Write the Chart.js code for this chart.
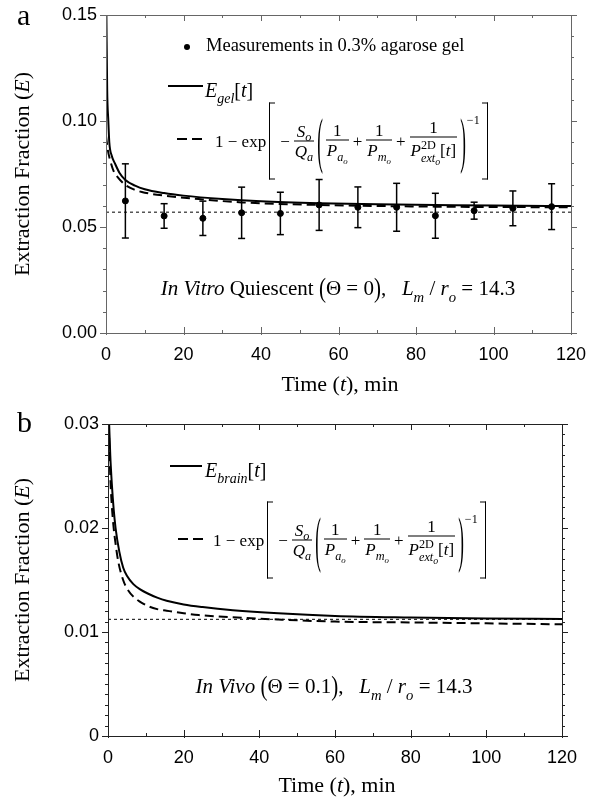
<!DOCTYPE html>
<html>
<head>
<meta charset="utf-8">
<script src="https://cdn.jsdelivr.net/npm/chart.js@4.4.1/dist/chart.umd.min.js"></script>
<style>
  body { margin: 0; background: #fff; }
  #wrap { position: relative; width: 600px; height: 797px; overflow: hidden;
          font-family: "Liberation Serif", "Times New Roman", serif; color: #000; }
  canvas { position: absolute; left: 0; }
  .txt { position: absolute; line-height: 1; white-space: nowrap; }
  .txt sub { font-size: 0.7em; line-height: 0; vertical-align: -0.45em; }
  .f { position: absolute; display: flex; align-items: center; font-size: 17px; line-height: 1;
       transform: translateY(-50%); white-space: nowrap; }
  .f sub { font-size: 0.72em; line-height: 0; vertical-align: -0.4em; }
  .frac { display: inline-flex; flex-direction: column; align-items: center; margin: 0 2px; }
  .frac > span { padding: 1px 1px; }
  .frac > span:first-child { border-bottom: 1px solid #000; align-self: stretch; text-align: center; }
  .brk { width: 6px; height: 77px; border: 1px solid #000; box-sizing: border-box; }
  .brk.l { border-right: none; margin: 0 3px 0 3px; }
  .brk.r { border-left: none; margin-left: 2px; }
  .par { display: inline-block; transform: scaleY(3.6); margin: 0 1px; }
  .op { margin: 0 2px; }
  .ss { display: inline-block; font-size: 0.72em; line-height: 1.05; vertical-align: -0.45em; }
  .ss > span { display: block; }
  .ss sub { font-size: 0.8em; }
  .exp { align-self: flex-start; font-size: 12px; margin-top: 11px; }
  .big { display: inline-block; transform: scaleY(1.25); }
  .sample { position: absolute; height: 2px; background: #000; }
  .dash { position: absolute; height: 2px;
          background: repeating-linear-gradient(90deg, #000 0 10px, transparent 10px 15px); }
</style>
</head>
<body>
<div id="wrap">
  <canvas id="chartA" width="600" height="400" style="top:0"></canvas>
  <canvas id="chartB" width="600" height="397" style="top:400px"></canvas>
</div>
<script>
// ---- panel a : in vitro gel ----
const tGel   = [0.1, 0.3, 0.6, 0.85, 1.5, 2.3, 3.5, 5, 7.5, 10, 15, 20, 30, 40, 55, 70, 85, 100, 120];
const eGel   = [0.150, 0.115, 0.100, 0.090, 0.0835, 0.0800, 0.0755, 0.0722, 0.0695, 0.0678, 0.0660,
                0.0648, 0.0632, 0.0621, 0.0612, 0.0607, 0.0604, 0.0601, 0.0599];
const tModelA = [0, 0.5, 1, 2, 3, 5, 7.5, 10, 15, 25, 35, 55, 85, 120];
const eModelA = [0.093, 0.086, 0.082, 0.0762, 0.0735, 0.0698, 0.0675, 0.0662, 0.0648, 0.0630,
                 0.0616, 0.0604, 0.0596, 0.0593];
const tMeas   = [5, 15, 25, 35, 45, 55, 65, 75, 85, 95, 105, 115];
const eMeas   = [0.0623, 0.0552, 0.0541, 0.0567, 0.0564, 0.0604, 0.0593, 0.0593, 0.0553, 0.0577, 0.0588, 0.0596];
const errMeas = [0.0175, 0.0058, 0.0081, 0.0121, 0.0100, 0.0120, 0.0096, 0.0113, 0.0106, 0.0040, 0.0082, 0.0108];
const steadyA = 0.057;

// ---- panel b : in vivo brain ----
const tBrain  = [0.3, 0.6, 1, 1.5, 2, 3, 4, 5, 6.7, 8.5, 10.5, 13, 15.5, 20, 25, 33, 45, 60, 80, 100, 120];
const eBrain  = [0.0300, 0.0270, 0.0243, 0.0218, 0.0200, 0.0177, 0.0162, 0.0154, 0.0146, 0.0141, 0.0137,
                 0.0133, 0.0130, 0.01265, 0.0124, 0.0121, 0.0118, 0.01155, 0.0114, 0.0113, 0.01125];
const tModelB = [0.2, 0.6, 1, 1.5, 2, 2.7, 4, 5, 6.7, 8.5, 10.5, 13, 15.5, 20, 24, 33, 45, 60, 80, 100, 120];
const eModelB = [0.0300, 0.0250, 0.0222, 0.0200, 0.0185, 0.0168, 0.0150, 0.0142, 0.0134, 0.0129, 0.0125,
                 0.0122, 0.01205, 0.0118, 0.01163, 0.01141, 0.0112, 0.0110, 0.01092, 0.01083, 0.01074];
const steadyB = 0.01122;

const xTicks = { min: 0, max: 120, step: 20, minor: 10 };

// zip x/y arrays into points
const pts = (xs, ys) => xs.map((x, i) => ({ x, y: ys[i] }));

// frame + ticks on all four sides
const frameTicks = {
  id: 'frameTicks',
  afterDatasetsDraw(chart, args, o) {
    const { ctx, chartArea: a, scales: { x, y } } = chart;
    ctx.save();
    ctx.strokeStyle = o.color;
    ctx.lineWidth = 1;
    ctx.strokeRect(a.left + 0.5, a.top + 0.5, a.right - a.left, a.bottom - a.top);
    ctx.beginPath();
    const nx = Math.round((x.max - x.min) / o.xMinor);
    for (let i = 0; i <= nx; i++) {
      const px = Math.round(x.getPixelForValue(x.min + i * o.xMinor)) + 0.5;
      const len = i % 2 === 0 ? 6 : 3;
      ctx.moveTo(px, a.bottom); ctx.lineTo(px, a.bottom - len);
      ctx.moveTo(px, a.top); ctx.lineTo(px, a.top + len);
      if (i % 2 === 0) { ctx.moveTo(px, a.bottom); ctx.lineTo(px, a.bottom + 2); }
    }
    const ny = Math.round((y.max - y.min) / o.yMinor);
    const every = Math.round(o.yMajor / o.yMinor);
    for (let i = 0; i <= ny; i++) {
      const py = Math.round(y.getPixelForValue(y.min + i * o.yMinor)) + 0.5;
      const len = i % every === 0 ? 6 : 3;
      ctx.moveTo(a.left, py); ctx.lineTo(a.left - len, py);
      ctx.moveTo(a.right, py); ctx.lineTo(a.right + len, py);
    }
    ctx.stroke();
    ctx.restore();
  }
};

function curve(data, dash) {
  return {
    data, showLine: true, borderColor: '#000', borderWidth: 2, borderDash: dash || [],
    pointRadius: 0, cubicInterpolationMode: 'monotone'
  };
}

function makeChart(id, datasets, yMax, yMajor, yMinor, yFmt, pad, axisColor) {
  return new Chart(document.getElementById(id), {
    type: 'scatter',
    data: { datasets },
    plugins: [frameTicks],
    options: {
      responsive: false,
      animation: false,
      layout: { padding: pad },
      plugins: {
        legend: { display: false },
        tooltip: { enabled: false },
        frameTicks: { color: axisColor, xMinor: xTicks.minor, yMajor, yMinor }
      },
      scales: {
        x: {
          type: 'linear', min: xTicks.min, max: xTicks.max,
          grid: { display: false, drawTicks: true, tickLength: 8 },
          border: { display: false },
          ticks: { stepSize: xTicks.step, padding: 3, color: '#000',
                   font: { family: 'Liberation Sans', size: 18 } },
          afterFit: s => { s.height = 40; }
        },
        y: {
          min: 0, max: yMax,
          grid: { display: false, drawTicks: true, tickLength: 6 },
          border: { display: false },
          ticks: { stepSize: yMajor, padding: 3, color: '#000',
                   font: { family: 'Liberation Sans', size: 18 }, callback: yFmt },
          afterFit: s => { s.width = 60; }
        }
      }
    }
  });
}

const errorBars = tMeas.map((t, i) => ({
  data: [{ x: t, y: eMeas[i] - errMeas[i] }, { x: t, y: eMeas[i] + errMeas[i] }],
  showLine: true, borderColor: '#000', borderWidth: 1.5,
  pointStyle: 'line', pointRadius: 3.5, pointBorderWidth: 1.5, pointBorderColor: '#000'
}));

makeChart('chartA', [
  curve(pts(tGel, eGel)),
  curve(pts(tModelA, eModelA), [9, 5]),
  { data: [{ x: 0, y: steadyA }, { x: 120, y: steadyA }], showLine: true, borderColor: '#000',
    borderWidth: 1, borderDash: [3, 3], pointRadius: 0 },
  ...errorBars,
  { data: pts(tMeas, eMeas), pointRadius: 3, pointBackgroundColor: '#000', pointBorderColor: '#000' }
], 0.15, 0.05, 0.01, v => v.toFixed(2), { left: 46, right: 29, top: 15, bottom: 27 }, '#666');

makeChart('chartB', [
  curve(pts(tBrain, eBrain)),
  curve(pts(tModelB, eModelB), [9, 5]),
  { data: [{ x: 0, y: steadyB }, { x: 120, y: steadyB }], showLine: true, borderColor: '#000',
    borderWidth: 1, borderDash: [3, 3], pointRadius: 0 }
], 0.03, 0.01, 0.001, v => v === 0 ? '0' : v.toFixed(2), { left: 48, right: 38, top: 24, bottom: 21 }, '#222');

// ---- text overlays ----
const wrap = document.getElementById('wrap');

function put(html, x, base, size, center) {
  const d = document.createElement('div');
  d.className = 'txt';
  d.innerHTML = html;
  d.style.fontSize = size + 'px';
  d.style.left = x + 'px';
  d.style.top = (base - 0.84 * size) + 'px';
  if (center) d.style.transform = 'translateX(-50%)';
  wrap.appendChild(d);
}

function putV(html, cx, cy, size) {
  const d = document.createElement('div');
  d.className = 'txt';
  d.innerHTML = html;
  d.style.fontSize = size + 'px';
  d.style.left = cx + 'px';
  d.style.top = cy + 'px';
  d.style.transform = 'translate(-50%,-50%) rotate(-90deg)';
  wrap.appendChild(d);
}

function box(cls, x, y, w) {
  const d = document.createElement('div');
  d.className = cls;
  d.style.left = x + 'px';
  d.style.top = y + 'px';
  d.style.width = w + 'px';
  wrap.appendChild(d);
}

function formula(x, cy) {
  const d = document.createElement('div');
  d.className = 'f';
  d.style.left = x + 'px';
  d.style.top = cy + 'px';
  d.innerHTML =
    '<span>1 − exp</span>' +
    '<span class="brk l"></span>' +
    '<span class="op">−</span>' +
    '<span class="frac"><span><i>S</i><sub><i>o</i></sub></span><span><i>Q</i><sub><i>a</i></sub></span></span>' +
    '<span class="par">(</span>' +
    '<span class="frac"><span>1</span><span><i>P</i><sub><i>a</i><sub><i>o</i></sub></sub></span></span>' +
    '<span class="op">+</span>' +
    '<span class="frac"><span>1</span><span><i>P</i><sub><i>m</i><sub><i>o</i></sub></sub></span></span>' +
    '<span class="op">+</span>' +
    '<span class="frac"><span>1</span><span><i>P</i><span class="ss"><span>2D</span>' +
      '<span><i>ext</i><sub><i>o</i></sub></span></span>[<i>t</i>]</span></span>' +
    '<span class="par">)</span>' +
    '<span class="exp">−1</span>' +
    '<span class="brk r"></span>';
  wrap.appendChild(d);
}

// panel a
put('a', 17, 25, 30);
const dot = document.createElement('div');
dot.style.cssText = 'position:absolute;left:184px;top:44px;width:6px;height:6px;border-radius:50%;background:#000';
wrap.appendChild(dot);
put('Measurements in 0.3% agarose gel', 206, 52, 18.5);
box('sample', 168, 85, 35);
put('<i>E</i><sub><i>gel</i></sub>[<i>t</i>]', 205, 97, 20);
box('dash', 177, 138, 25);
formula(215, 141);
put('<i>In Vitro</i> Quiescent <span class="big">(</span>Θ = 0<span class="big">)</span>,&nbsp;&nbsp;&nbsp;<i>L</i><sub><i>m</i></sub> / <i>r</i><sub><i>o</i></sub> = 14.3', 338, 296, 21, true);
putV('Extraction Fraction (<i>E</i>)', 22, 174, 22);
put('Time (<i>t</i>), min', 340, 391, 22, true);

// panel b
put('b', 17, 432, 30);
box('sample', 170, 465, 32);
put('<i>E</i><sub><i>brain</i></sub>[<i>t</i>]', 205, 477, 20);
box('dash', 178, 538, 25);
formula(213, 540);
put('<i>In Vivo</i> <span class="big">(</span>Θ = 0.1<span class="big">)</span>,&nbsp;&nbsp;&nbsp;<i>L</i><sub><i>m</i></sub> / <i>r</i><sub><i>o</i></sub> = 14.3', 334, 694, 21, true);
putV('Extraction Fraction (<i>E</i>)', 22, 580, 22);
put('Time (<i>t</i>), min', 337, 792, 22, true);
</script>
</body>
</html>
